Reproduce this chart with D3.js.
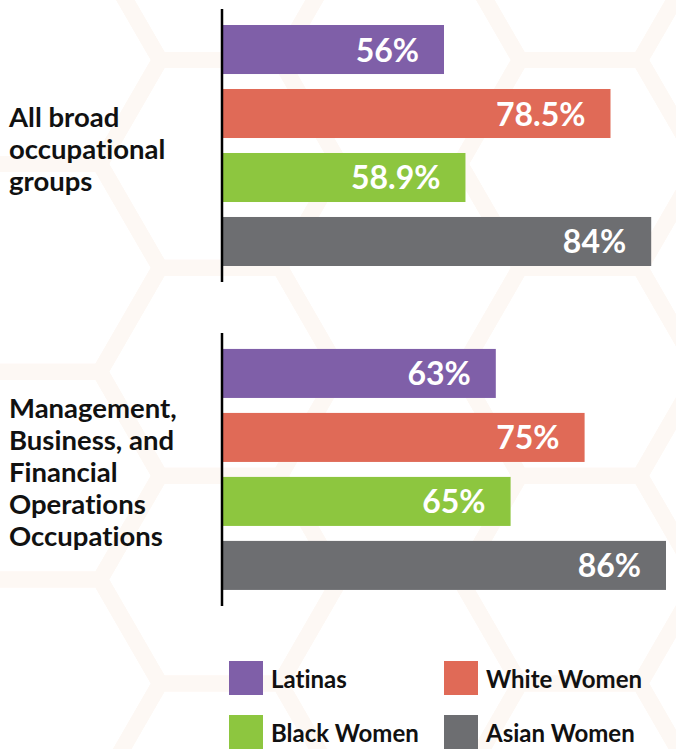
<!DOCTYPE html>
<html>
<head>
<meta charset="utf-8">
<script src="https://cdn.jsdelivr.net/npm/d3@7"></script>
<style>
  body { margin: 0; background: #fff; }
  svg { display: block; }
  text { font-variant-ligatures: none; font-feature-settings: "liga" 0; }
</style>
</head>
<body>
<script>
const groups = ['All broad occupational groups', 'Management, Business, and Financial Operations Occupations'];
const groupLines = [
  ['All broad', 'occupational', 'groups'],
  ['Management,', 'Business, and', 'Financial', 'Operations', 'Occupations']
];
const series = ['Latinas', 'White Women', 'Black Women', 'Asian Women'];
const colors = ['#7f5fa8', '#e06a57', '#8dc63f', '#6d6e71'];
const allBroad = [56, 78.5, 58.9, 84];
const management = [63, 75, 65, 86];
const valueLabels = [['56%', '78.5%', '58.9%', '84%'], ['63%', '75%', '65%', '86%']];

const w = 676;
const h = 749;
const svg = d3.select('body').append('svg').attr('width', w).attr('height', h);

// faint hexagon pattern in the background
const bg = svg.append('g').attr('fill', 'none').attr('stroke', '#fdf8f4').attr('stroke-width', 16);
const r = 120;
const hexPath = (cx, cy) => {
  const pts = d3.range(6).map((i) => {
    const a = (Math.PI / 3) * i;
    return [cx + r * Math.cos(a), cy + r * Math.sin(a)];
  });
  return 'M' + pts.join('L') + 'Z';
};
for (let col = -1; col < 6; col++) {
  for (let row = -1; row < 5; row++) {
    const cx = col * r * 1.5 + 40;
    const cy = row * r * Math.sqrt(3) + (col % 2 ? r * Math.sqrt(3) / 2 : 0) + 60;
    bg.append('path').attr('d', hexPath(cx, cy));
  }
}

const data = [allBroad, management];

const xScale = d3.scaleLinear().domain([26, 86]).range([222, 666]);

const y0 = d3.scaleBand().domain(groups).range([9, 606]).paddingInner(0.157);
const y1 = d3.scaleBand().domain(series).range([16, 257]).paddingInner(0.234);

groups.forEach((g, gi) => {
  const gy = y0(g);
  const grp = svg.append('g').attr('transform', `translate(0,${gy})`);

  grp.selectAll('rect')
    .data(data[gi])
    .enter()
    .append('rect')
    .attr('x', xScale(26) + 1)
    .attr('y', (d, i) => y1(series[i]))
    .attr('width', (d) => xScale(d) - xScale(26) - 1)
    .attr('height', y1.bandwidth())
    .attr('fill', (d, i) => colors[i]);

  grp.selectAll('text.val')
    .data(data[gi])
    .enter()
    .append('text')
    .attr('class', 'val')
    .attr('x', (d) => xScale(d) - 25)
    .attr('y', (d, i) => y1(series[i]) + y1.bandwidth() / 2 + 12)
    .attr('text-anchor', 'end')
    .attr('fill', '#fff')
    .style('font-family', 'Lato, sans-serif')
    .style('font-weight', 700)
    .style('font-size', '32px')
    .text((d, i) => valueLabels[gi][i]);

  // axis line
  grp.append('line')
    .attr('x1', xScale(26)).attr('x2', xScale(26))
    .attr('y1', 0).attr('y2', y0.bandwidth())
    .attr('stroke', '#000').attr('stroke-width', 2.5);

  const lines = groupLines[gi];
  const mid = y0.bandwidth() / 2;
  grp.append('text')
    .style('font-family', 'Lato, sans-serif')
    .style('font-weight', 700)
    .style('font-size', '27.5px')
    .attr('fill', '#111')
    .selectAll('tspan')
    .data(lines)
    .enter()
    .append('tspan')
    .attr('x', 9)
    .attr('y', (d, i) => mid + (i - (lines.length - 1) / 2) * 32 + 13)
    .text((d) => d);
});

// legend
const legend = svg.append('g');
const lx = [229, 444];
const ly = [661, 715];
series.forEach((s, i) => {
  const x = lx[i % 2];
  const y = ly[Math.floor(i / 2)];
  legend.append('rect')
    .attr('x', x).attr('y', y)
    .attr('width', 34).attr('height', 34)
    .attr('fill', colors[i]);
  legend.append('text')
    .attr('x', x + 42)
    .attr('y', y + 27)
    .style('font-family', 'Lato, sans-serif')
    .style('font-weight', 700)
    .style('font-size', '24px')
    .attr('fill', '#111')
    .text(s);
});
</script>
</body>
</html>
